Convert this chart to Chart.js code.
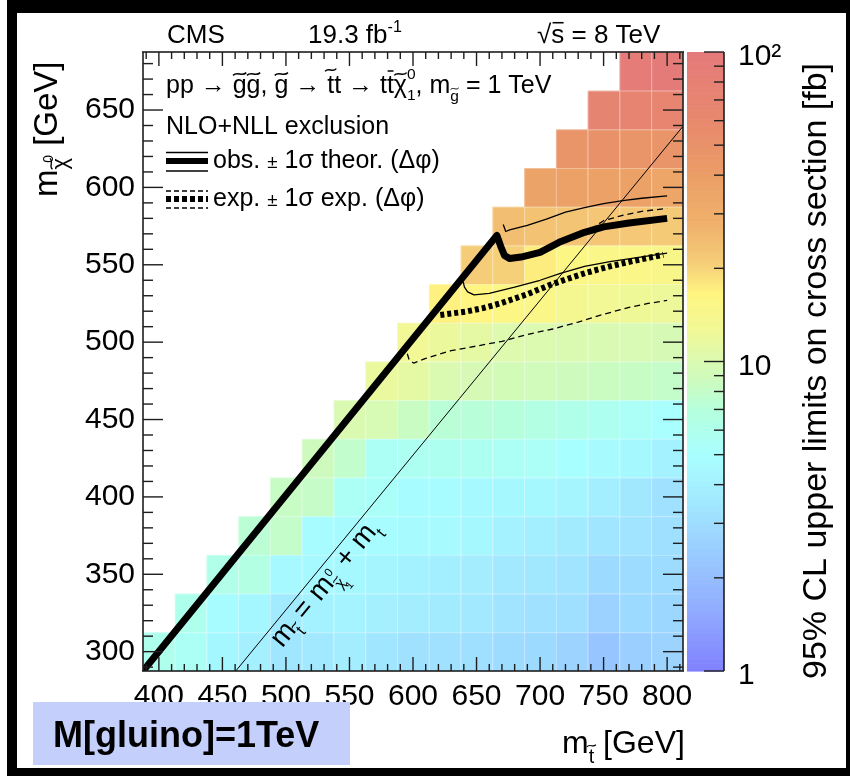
<!DOCTYPE html>
<html>
<head>
<meta charset="utf-8">
<title>Stop / LSP mass plane, gluino at 1 TeV</title>
<script src="https://cdn.jsdelivr.net/npm/chart.js@4.4.1/dist/chart.umd.min.js"></script>
<style>
  html, body { margin: 0; padding: 0; background: #fff; }
  #plot { width: 850px; height: 776px; position: relative; }
</style>
</head>
<body>
<div id="plot"><canvas id="massPlane" width="850" height="776"></canvas></div>
<script>
const FAMILY = '"Liberation Sans", Arial, Helvetica, sans-serif';

// bin centres (GeV), 25 GeV wide bins
const stopMass = [400, 425, 450, 475, 500, 525, 550, 575, 600, 625, 650, 675, 700, 725, 750, 775, 800];
const lspMass = [300, 325, 350, 375, 400, 425, 450, 475, 500, 525, 550, 575, 600, 625, 650, 675];
const binWidth = 25;
const topMass = 173;

// 95% CL upper limit on cross section [fb], one row per LSP mass, columns follow stopMass
const limitRows = [
  [6.0, 5.6, 4.4, 4.0, 3.4, 3.6, 3.8, 3.4, 3.2, 3.2, 3.1, 3.0, 2.9, 2.7, 2.2, 2.5, 2.7],
  [null, 6.0, 4.8, 4.4, 3.7, 4.1, 4.2, 4.0, 3.8, 3.7, 3.6, 3.3, 3.2, 3.1, 2.6, 2.9, 2.8],
  [null, null, 6.3, 6.6, 4.6, 4.6, 4.5, 4.3, 4.1, 3.9, 3.8, 3.6, 3.5, 3.3, 2.9, 3.0, 3.0],
  [null, null, null, 7.4, 8.0, 4.8, 4.7, 4.8, 4.7, 4.7, 4.5, 4.1, 3.9, 3.7, 3.4, 3.3, 3.1],
  [null, null, null, null, 8.3, 8.1, 5.5, 5.3, 4.8, 4.8, 4.6, 4.5, 4.5, 4.3, 3.9, 3.5, 3.2],
  [null, null, null, null, null, 8.8, 7.8, 5.6, 5.7, 5.8, 5.7, 5.6, 5.4, 5.0, 4.7, 4.5, 4.1],
  [null, null, null, null, null, null, 10.0, 9.7, 8.4, 7.3, 7.2, 7.0, 6.6, 6.2, 5.8, 5.4, 5.1],
  [null, null, null, null, null, null, null, 11.8, 11.2, 10.0, 9.6, 9.3, 9.0, 8.8, 8.5, 8.3, 8.0],
  [null, null, null, null, null, null, null, null, 12.8, 12.0, 11.2, 10.3, 10.2, 10.1, 9.9, 9.8, 9.6],
  [null, null, null, null, null, null, null, null, null, 17.0, 16.5, 15.8, 15.0, 13.5, 12.8, 12.5, 12.2],
  [null, null, null, null, null, null, null, null, null, null, 21.0, 20.5, 17.5, 15.8, 15.2, 15.0, 14.8],
  [null, null, null, null, null, null, null, null, null, null, null, 24.0, 23.5, 23.0, 22.5, 22.0, 21.5],
  [null, null, null, null, null, null, null, null, null, null, null, null, 36.0, 37.0, 38.0, 37.0, 35.0],
  [null, null, null, null, null, null, null, null, null, null, null, null, null, 48.0, 50.0, 48.0, 47.0],
  [null, null, null, null, null, null, null, null, null, null, null, null, null, null, 72.0, 70.0, 69.0],
  [null, null, null, null, null, null, null, null, null, null, null, null, null, null, null, 92.0, 95.0]
];

// exclusion contours, [m_stop, m_lsp]
const obsCentral = [[387.5, 287.5], [666, 569], [669, 562], [672, 556], [676, 554], [685, 555], [700, 558],
  [715, 564.5], [735, 571], [750, 574.5], [770, 577], [800, 580]];
const obsUpper = [[671, 576], [673, 571.5], [676, 572.5], [690, 575.5], [705, 579.5], [720, 584], [735, 587],
  [750, 589.5], [765, 591.5], [780, 593], [800, 594.5]];
const obsLower = [[639.5, 539], [640.5, 535.5], [643, 532.5], [648, 530.5], [660, 531.5], [680, 535.5],
  [700, 540], [716, 544.5], [735, 549], [755, 552], [775, 554.5], [800, 557.5]];
const expCentral = [[621.5, 517.5], [630, 518.5], [642, 519.8], [655, 522], [668.5, 525], [690, 531],
  [708, 537], [722, 541], [737, 545], [755, 549], [773.5, 552.5], [797, 556.5]];
const expUpper = [[740, 573], [750, 578.5], [765, 582], [780, 584.5], [800, 586.5]];
const expLower = [[595.5, 492.5], [597, 488.5], [600.5, 486.5], [610, 489.5], [630, 494.5], [650, 497.5],
  [670, 500.5], [690, 505], [710, 508.5], [730, 513], [750, 518], [770, 522.5], [785, 525], [800, 527]];
const kinematicLine = [[287.5 + topMass, 287.5], [812.5, 812.5 - topMass]];

const xTicks = [400, 450, 500, 550, 600, 650, 700, 750, 800];
const yTicks = [300, 350, 400, 450, 500, 550, 600, 650];
const zTicks = [1, 10, 100];

// colour palette along log10(limit)/2
const paletteStops = [0, 0.1, 0.18, 0.26, 0.35, 0.42, 0.47, 0.5, 0.55, 0.61, 0.66, 0.72, 0.8, 0.88, 1];
const paletteColors = [[128, 128, 255], [145, 172, 255], [152, 200, 255], [160, 228, 255], [168, 255, 255],
  [180, 255, 222], [205, 251, 190], [218, 250, 178], [240, 248, 150], [255, 245, 128], [245, 205, 120],
  [240, 178, 108], [235, 158, 102], [232, 138, 108], [228, 122, 122]];

function colorFor(v) {
  const t = Math.min(1, Math.max(0, Math.log10(v) / 2));
  let i = 0;
  while (i < paletteStops.length - 2 && t > paletteStops[i + 1]) i++;
  const f = (t - paletteStops[i]) / (paletteStops[i + 1] - paletteStops[i]);
  const a = paletteColors[i], b = paletteColors[i + 1];
  const c = a.map((ch, k) => Math.round(ch + (b[k] - ch) * f));
  return `rgb(${c[0]},${c[1]},${c[2]})`;
}

function tilde(ctx, cx, cy, w, fs) {
  const h = fs * 0.055;
  ctx.save();
  ctx.lineWidth = Math.max(1, fs * 0.06);
  ctx.beginPath();
  ctx.moveTo(cx - w / 2, cy + h);
  ctx.bezierCurveTo(cx - w / 6, cy - 2.4 * h, cx + w / 6, cy + 2.4 * h, cx + w / 2, cy - h);
  ctx.stroke();
  ctx.restore();
}

// draws a run of text pieces with sub/superscripts, tildes and bars
function drawRich(ctx, x, y, size, parts, weight) {
  let cx = x;
  for (const p of parts) {
    const part = typeof p === 'string' ? { t: p } : p;
    const fs = size * (part.k || 1);
    const dy = size * (part.d || 0);
    cx += size * (part.ox || 0);
    ctx.font = `${weight || ''} ${fs}px ${FAMILY}`;
    ctx.fillText(part.t, cx, y + dy);
    const w = ctx.measureText(part.t).width;
    if (part.tilde) tilde(ctx, cx + w / 2, y + dy - fs * part.tilde, Math.max(w * 0.95, fs * 0.45), fs);
    if (part.bar) {
      ctx.save();
      ctx.lineWidth = Math.max(1, fs * 0.06);
      ctx.beginPath();
      ctx.moveTo(cx + w * 0.1, y + dy - fs * part.bar);
      ctx.lineTo(cx + w * 0.95, y + dy - fs * part.bar);
      ctx.stroke();
      ctx.restore();
    }
    if (!part.hold) cx += w;
  }
  return cx;
}

const SUP = { k: 0.62, d: -0.42 };

const limitCells = {
  id: 'limitCells',
  beforeDatasetsDraw(chart) {
    const { ctx, chartArea, scales: { x, y } } = chart;
    ctx.save();
    ctx.beginPath();
    ctx.rect(chartArea.left, chartArea.top, chartArea.width, chartArea.height);
    ctx.clip();
    lspMass.forEach((m, j) => {
      limitRows[j].forEach((v, i) => {
        if (v == null) return;
        const x0 = x.getPixelForValue(stopMass[i] - binWidth / 2);
        const x1 = x.getPixelForValue(stopMass[i] + binWidth / 2);
        const y0 = y.getPixelForValue(m + binWidth / 2);
        const y1 = y.getPixelForValue(m - binWidth / 2);
        ctx.fillStyle = colorFor(v);
        ctx.fillRect(x0, y0, x1 - x0, y1 - y0);
        // light seams between bins
        ctx.fillStyle = 'rgba(255,255,255,0.3)';
        ctx.fillRect(x0, y0, x1 - x0, 1);
        ctx.fillRect(x0, y0, 1, y1 - y0);
      });
    });
    ctx.restore();
  }
};

// axis frame, inward ticks and colour scale, drawn with filled strips
function drawFrame(chart) {
  const { ctx, chartArea: a, scales: { x, y, z } } = chart;
  const ink = '#1e1e1e';
  ctx.save();
  ctx.fillStyle = ink;
  const hLine = (x0, x1, yy, w) => ctx.fillRect(Math.min(x0, x1), yy - w / 2, Math.abs(x1 - x0), w);
  const vLine = (xx, y0, y1, w) => ctx.fillRect(xx - w / 2, Math.min(y0, y1), w, Math.abs(y1 - y0));

  for (let v = 390; v <= 810; v += 10) {
    const px = x.getPixelForValue(v);
    const len = v % 50 === 0 ? 14 : 7;
    vLine(px, a.bottom, a.bottom - len, 1.4);
    vLine(px, a.top, a.top + len, 1.4);
  }
  for (let v = 290; v <= 680; v += 10) {
    const py = y.getPixelForValue(v);
    const len = v % 50 === 0 ? 20 : 10;
    hLine(a.left, a.left + len, py, 1.4);
    hLine(a.right, a.right - len, py, 1.4);
  }
  hLine(a.left - 1, a.right + 1, a.top, 1.6);
  hLine(a.left - 1, a.right + 1, a.bottom, 1.6);
  vLine(a.left, a.top, a.bottom, 1.6);
  vLine(a.right, a.top, a.bottom, 1.6);

  // colour scale
  const barLeft = z.left + 4, barRight = z.left + 41;
  const steps = 240;
  for (let k = 0; k < steps; k++) {
    const v0 = Math.pow(10, 2 * k / steps), v1 = Math.pow(10, 2 * (k + 1) / steps);
    const p0 = z.getPixelForValue(v0), p1 = z.getPixelForValue(v1);
    ctx.fillStyle = colorFor(Math.sqrt(v0 * v1));
    ctx.fillRect(barLeft, p1, barRight - barLeft, p0 - p1 + 0.6);
  }
  ctx.fillStyle = ink;
  vLine(barRight, a.top, a.bottom, 1.6);
  for (const dec of [1, 10]) {
    for (let m = 1; m <= 10; m++) {
      if (dec === 10 && m === 1) continue;
      const py = z.getPixelForValue(dec * m);
      const len = (m === 1 || m === 10) ? 20 : 10;
      hLine(barRight, barRight - len, py, 1.4);
    }
  }
  ctx.restore();
}

const annotations = {
  id: 'annotations',
  afterDraw(chart) {
    drawFrame(chart);
    const { ctx, chartArea: a, scales: { x, y } } = chart;
    ctx.save();
    ctx.setLineDash([]);
    ctx.fillStyle = '#000';
    ctx.strokeStyle = '#000';
    ctx.textBaseline = 'alphabetic';
    ctx.textAlign = 'left';

    // header
    ctx.font = `26px ${FAMILY}`;
    ctx.fillText('CMS', 167, 43);
    drawRich(ctx, 308, 43, 26, ['19.3 fb', Object.assign({ t: '-1' }, SUP)]);
    const sx = drawRich(ctx, 537, 43, 26, ['√']);
    drawRich(ctx, sx, 43, 26, [{ t: 's', bar: 0.78 }, ' = 8 TeV']);

    // process and legend
    const L = a.left;
    drawRich(ctx, L + 23, 93, 25, [
      'pp → ', { t: 'g', tilde: 0.76 }, { t: 'g', tilde: 0.76 }, ', ', { t: 'g', tilde: 0.76 }, ' → ',
      { t: 't', tilde: 0.92 }, 't → t', { t: 't', bar: 0.88 }, { t: 'χ', tilde: 0.76 },
      { t: '0', k: 0.62, d: -0.55, hold: true }, { t: '1', k: 0.62, d: 0.28 }, ', m',
      { t: 'g', k: 0.62, d: 0.3, tilde: 0.76 }, ' = 1 TeV'
    ]);
    ctx.font = `25px ${FAMILY}`;
    ctx.fillText('NLO+NLL exclusion', L + 23, 134);
    drawRich(ctx, L + 70, 168, 25, ['obs. ', { t: '±', k: 0.75 }, ' 1σ theor. (Δφ)']);
    drawRich(ctx, L + 70, 206, 25, ['exp. ', { t: '±', k: 0.75 }, ' 1σ exp. (Δφ)']);

    const l0 = L + 23, l1 = L + 65;
    ctx.lineCap = 'butt';
    const seg = (yy, w, dash) => {
      ctx.lineWidth = w; ctx.setLineDash(dash);
      ctx.beginPath(); ctx.moveTo(l0, yy); ctx.lineTo(l1, yy); ctx.stroke();
    };
    seg(152.5, 1.3, []); seg(161, 6, []); seg(171, 1.3, []);
    seg(191, 1.3, [5, 3]); seg(199, 6, [5, 3]); seg(208, 1.3, [5, 3]);
    ctx.setLineDash([]);

    // kinematic limit label along the thin diagonal
    const p0 = [x.getPixelForValue(kinematicLine[0][0]), y.getPixelForValue(kinematicLine[0][1])];
    const p1 = [x.getPixelForValue(kinematicLine[1][0]), y.getPixelForValue(kinematicLine[1][1])];
    const ang = Math.atan2(p1[1] - p0[1], p1[0] - p0[0]);
    ctx.save();
    ctx.translate(x.getPixelForValue(497), y.getPixelForValue(302));
    ctx.rotate(ang);
    drawRich(ctx, 0, 0, 28, [
      'm', { t: 't', k: 0.6, d: 0.3, tilde: 0.85 }, ' = m', { t: 'χ', k: 0.55, d: 0.3, tilde: 0.72, hold: true },
      { t: '0', k: 0.42, d: -0.3, ox: 0.06 }, { t: '1', k: 0.4, d: 0.55, ox: -0.1 }, ' + m', { t: 't', k: 0.6, d: 0.3 }
    ]);
    ctx.restore();

    // axis titles
    drawRich(ctx, 562, 753, 32, ['m', { t: 't', k: 0.62, d: 0.3, tilde: 0.85 }, ' [GeV]']);

    ctx.save();
    ctx.translate(57, 197);
    ctx.rotate(-Math.PI / 2);
    drawRich(ctx, 0, 0, 33, ['m', { t: 'χ', k: 0.66, d: 0.3, tilde: 0.72 }, { t: '0', k: 0.42, d: -0.12, ox: -0.14 }, ' [GeV]']);
    ctx.restore();

    ctx.save();
    ctx.translate(826, 679);
    ctx.rotate(-Math.PI / 2);
    ctx.font = `34px ${FAMILY}`;
    ctx.fillText('95% CL upper limits on cross section [fb]', 0, 0);
    ctx.restore();

    // gluino mass tag
    ctx.fillStyle = '#c4cffb';
    ctx.fillRect(33, 702, 317, 63);
    ctx.fillStyle = '#000';
    ctx.font = `bold 36px ${FAMILY}`;
    ctx.fillText('M[gluino]=1TeV', 53, 747);

    // outer border
    ctx.fillRect(7, 0, 843, 13);
    ctx.fillRect(7, 0, 10, 776);
    ctx.fillRect(7, 768, 843, 8);
    ctx.fillRect(846, 0, 4, 776);
    ctx.restore();
  }
};

// fixed axis sizes; label overhang is not allowed to push the frame around
const fixSize = (prop, size) => s => {
  s[prop] = size;
  s.paddingTop = 0; s.paddingBottom = 0; s.paddingLeft = 0; s.paddingRight = 0;
};

const toPoints = pts => pts.map(([x, y]) => ({ x, y }));

new Chart(document.getElementById('massPlane'), {
  type: 'scatter',
  data: {
    datasets: [
      { label: 'observed', data: toPoints(obsCentral), borderWidth: 7 },
      { label: 'expected', data: toPoints(expCentral), borderWidth: 6, borderDash: [4, 3] },
      { label: 'observed +1 sigma', data: toPoints(obsUpper), borderWidth: 1.3 },
      { label: 'observed -1 sigma', data: toPoints(obsLower), borderWidth: 1.3 },
      { label: 'expected +1 sigma', data: toPoints(expUpper), borderWidth: 1.3, borderDash: [6, 4] },
      { label: 'expected -1 sigma', data: toPoints(expLower), borderWidth: 1.3, borderDash: [6, 4] },
      { label: 'kinematic limit', data: toPoints(kinematicLine), borderWidth: 1 }
    ]
  },
  options: {
    responsive: false,
    animation: false,
    devicePixelRatio: 1,
    showLine: true,
    elements: {
      point: { radius: 0 },
      line: { borderColor: '#000', tension: 0, fill: false, borderCapStyle: 'butt', borderJoinStyle: 'round' }
    },
    layout: { padding: { top: 52, left: 0, right: 0, bottom: 0 } },
    plugins: { legend: { display: false }, tooltip: { enabled: false } },
    scales: {
      x: {
        type: 'linear', position: 'bottom', min: 387.5, max: 812.5,
        afterBuildTicks: s => { s.ticks = xTicks.map(v => ({ value: v })); },
        afterFit: fixSize('height', 105),
        grid: { display: false, drawTicks: false }, border: { display: false },
        ticks: { color: '#000', font: { family: FAMILY, size: 30 }, padding: 8, maxRotation: 0, autoSkip: false }
      },
      y: {
        type: 'linear', position: 'left', min: 287.5, max: 687.5,
        afterBuildTicks: s => { s.ticks = yTicks.map(v => ({ value: v })); },
        afterFit: fixSize('width', 143),
        grid: { display: false, drawTicks: false }, border: { display: false },
        ticks: { color: '#000', font: { family: FAMILY, size: 30 }, padding: 8, autoSkip: false }
      },
      z: {
        type: 'logarithmic', axis: 'y', position: 'right', min: 1, max: 100,
        afterBuildTicks: s => { s.ticks = zTicks.map(v => ({ value: v })); },
        afterFit: fixSize('width', 167),
        grid: { display: false, drawTicks: false }, border: { display: false },
        ticks: {
          color: '#000', font: { family: FAMILY, size: 30 }, padding: 55, autoSkip: false, labelOffset: 5,
          callback: v => (v === 100 ? '10²' : String(v))
        }
      }
    }
  },
  plugins: [limitCells, annotations]
});
</script>
</body>
</html>
